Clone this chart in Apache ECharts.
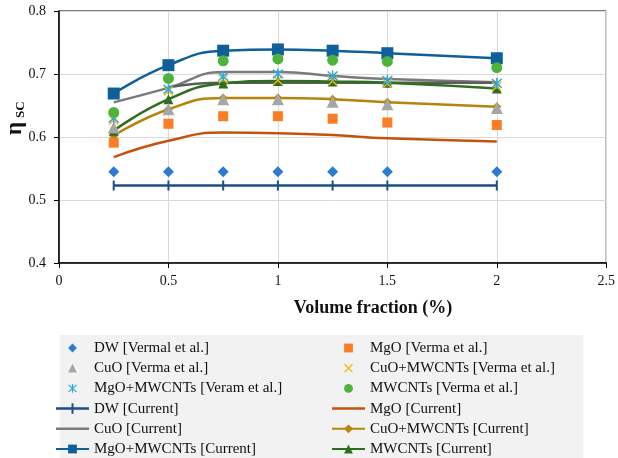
<!DOCTYPE html>
<html>
<head>
<meta charset="utf-8">
<script src="https://cdn.jsdelivr.net/npm/echarts@6/dist/echarts.min.js"></script>
<style>
  html, body { margin: 0; padding: 0; background: #fff; }
  #chart { width: 618px; height: 458px; }
</style>
</head>
<body>
<div id="chart"></div>
<script>
// Volume fraction (%) at which each efficiency was evaluated
var volFrac = [0.25, 0.5, 0.75, 1, 1.25, 1.5, 2];
var flatFrac = [0.5, 0.75, 1, 1.25, 1.5, 2];

// Collector efficiency, Verma et al. measurements
var dwVerma     = [0.545, 0.545, 0.545, 0.545, 0.545, 0.545, 0.545];
var mgoVerma    = [0.591, 0.621, 0.633, 0.633, 0.629, 0.623, 0.619];
var cuoVerma    = [0.615, 0.644, 0.660, 0.660, 0.656, 0.652, 0.646];
var cuoMwVerma  = [0.627, 0.673, 0.692, 0.690, 0.689, 0.685, 0.680];
var mgoMwVerma  = [0.630, 0.676, 0.696, 0.700, 0.697, 0.690, 0.685];
var mwVerma     = [0.639, 0.693, 0.721, 0.724, 0.722, 0.720, 0.710];

// Collector efficiency, current model
var dwCur     = [0.523, 0.523, 0.523, 0.523, 0.523, 0.523, 0.523];
var mgoCur    = [0.568, 0.594, 0.607, 0.606, 0.603, 0.598, 0.593];
var cuoCur    = [0.655, 0.678, 0.703, 0.703, 0.697, 0.692, 0.687];
var cuoCurFlat = [0.679, 0.686, 0.686, 0.686, 0.686, 0.686];
var cuoMwCur  = [0.602, 0.644, 0.662, 0.662, 0.660, 0.655, 0.648];
var mgoMwCur  = [0.669, 0.714, 0.737, 0.739, 0.737, 0.733, 0.725];
var mwCur     = [0.610, 0.660, 0.685, 0.689, 0.688, 0.686, 0.677];

var xTicks = [0, 0.5, 1, 1.5, 2, 2.5];
var yTicks = [0.4, 0.5, 0.6, 0.7, 0.8];

function pairs(xs, ys) {
  return ys.map(function (v, i) { return [xs[i], v]; });
}

var FONT = 'Liberation Serif, Times New Roman, serif';
var SYM_X = 'path://M0.6,1.5L1.5,0.6L9.4,8.5L8.5,9.4Z M8.5,0.6L9.4,1.5L1.5,9.4L0.6,8.5Z';
var SYM_STAR = 'path://M4.4,0H5.6V10H4.4Z M0.6,1.5L1.5,0.6L9.4,8.5L8.5,9.4Z M8.5,0.6L9.4,1.5L1.5,9.4L0.6,8.5Z';
var SYM_TICK = 'path://M0,0H2V10H0Z';
var LINE_ICON = 'path://M0,0H33V2.5H0Z';
var TICK_LINE_ICON = 'path://M0,4H33V6.5H0Z M15.5,0H17.5V10.5H15.5Z';

// measured points: markers only, no connecting line
function markers(name, ys, color, symbol, size) {
  return {
    name: name, type: 'line', data: pairs(volFrac, ys),
    symbol: symbol, symbolSize: size, showSymbol: true, z: 5,
    lineStyle: { width: 0, opacity: 0 },
    itemStyle: { color: color, opacity: 1 }
  };
}
// model predictions: smoothed lines
function curve(name, xs, ys, color, symbol, size, smooth) {
  return {
    name: name, type: 'line', data: pairs(xs, ys),
    smooth: smooth, symbol: symbol, symbolSize: size, showSymbol: symbol !== 'none',
    z: 3,
    lineStyle: { color: color, width: 2.5 },
    itemStyle: { color: color }
  };
}

var series = [
  curve('DW [Current]', volFrac, dwCur, '#1b4f8a', SYM_TICK, [2, 10], false),
  curve('MgO [Current]', volFrac, mgoCur, '#c4530f', 'none', 0, 0.5),
  curve('CuO [Current]', volFrac, cuoCur, '#7a7a7a', 'none', 0, 0.5),
  curve('CuO [Current]', flatFrac, cuoCurFlat, '#5c5c5c', 'none', 0, 0.5),
  curve('CuO+MWCNTs [Current]', volFrac, cuoMwCur, '#b5850a', 'diamond', 9, 0.5),
  curve('MWCNTs [Current]', volFrac, mwCur, '#2f6e1f', 'triangle', 10, 0.5),
  curve('MgO+MWCNTs [Current]', volFrac, mgoMwCur, '#0f5f9a', 'rect', 12, 0.5),
  markers('DW [Vermal et al.]', dwVerma, '#2c7bd1', 'diamond', 11),
  markers('MgO [Verma et al.]', mgoVerma, '#fb7d26', 'rect', 10),
  markers('CuO [Verma et al.]', cuoVerma, '#a6a6a6', 'triangle', 12),
  markers('CuO+MWCNTs [Verma et al.]', cuoMwVerma, '#f5b800', SYM_X, 10),
  markers('MgO+MWCNTs [Veram et al.]', mgoMwVerma, '#2fa8e0', SYM_STAR, 11),
  markers('MWCNTs [Verma et al.]', mwVerma, '#4db33d', 'circle', 11)
];

var legendText = { fontFamily: FONT, fontSize: 15, color: '#111' };
var legendCommon = {
  orient: 'vertical', top: 340.5, height: 130, padding: 0,
  itemWidth: 33, itemHeight: 11, itemGap: 5.2,
  textStyle: legendText, selectedMode: false
};

var chart = echarts.init(document.getElementById('chart'), null, { renderer: 'canvas' });
chart.setOption({
  animation: false,
  backgroundColor: '#fff',
  grid: {
    left: 59, right: 10, top: 11, bottom: 195,
    show: true, borderColor: '#000', borderWidth: 1
  },
  xAxis: {
    type: 'value', min: xTicks[0], max: xTicks[xTicks.length - 1], interval: 0.5,
    axisLine: { lineStyle: { color: '#000', width: 1.5 } },
    axisTick: { show: true, length: 5, lineStyle: { color: '#000' } },
    axisLabel: { fontFamily: FONT, fontSize: 14, color: '#111', margin: 11 },
    splitLine: { show: true, lineStyle: { color: '#d9d9d9', width: 1 } }
  },
  yAxis: {
    type: 'value', min: yTicks[0], max: yTicks[yTicks.length - 1], interval: 0.1,
    axisLine: { show: true, lineStyle: { color: '#000', width: 1.5 } },
    axisTick: { show: true, length: 5, lineStyle: { color: '#000' } },
    axisLabel: {
      fontFamily: FONT, fontSize: 14, color: '#111', margin: 13,
      formatter: function (v) { return v.toFixed(1); }
    },
    splitLine: { show: true, lineStyle: { color: '#d9d9d9', width: 1 } }
  },
  legend: [
    Object.assign({}, legendCommon, {
      left: 55,
      data: [
        'DW [Vermal et al.]', 'CuO [Verma et al.]', 'MgO+MWCNTs [Veram et al.]',
        { name: 'DW [Current]', icon: TICK_LINE_ICON },
        { name: 'CuO [Current]', icon: LINE_ICON },
        'MgO+MWCNTs [Current]'
      ]
    }),
    Object.assign({}, legendCommon, {
      left: 331,
      data: [
        'MgO [Verma et al.]', 'CuO+MWCNTs [Verma et al.]', 'MWCNTs [Verma et al.]',
        { name: 'MgO [Current]', icon: LINE_ICON },
        'CuO+MWCNTs [Current]', 'MWCNTs [Current]'
      ]
    })
  ],
  graphic: [
    { type: 'rect', left: 60, top: 335, z: -10, shape: { width: 523, height: 123 },
      style: { fill: '#f2f2f2' } },
    { type: 'text', x: 373, y: 308, z: 10,
      style: { text: 'Volume fraction (%)', font: 'bold 18px ' + FONT, fill: '#111',
               textAlign: 'center', textVerticalAlign: 'middle' } },
    { type: 'text', x: 15, y: 135, rotation: Math.PI / 2, z: 10,
      style: { text: 'η', font: 'bold 23px ' + FONT, fill: '#111',
               textAlign: 'left', textVerticalAlign: 'middle' } },
    { type: 'text', x: 21, y: 118, rotation: Math.PI / 2, z: 10,
      style: { text: 'SC', font: 'bold 13px ' + FONT, fill: '#111',
               textAlign: 'left', textVerticalAlign: 'middle' } }
  ],
  series: series
});
</script>
</body>
</html>
